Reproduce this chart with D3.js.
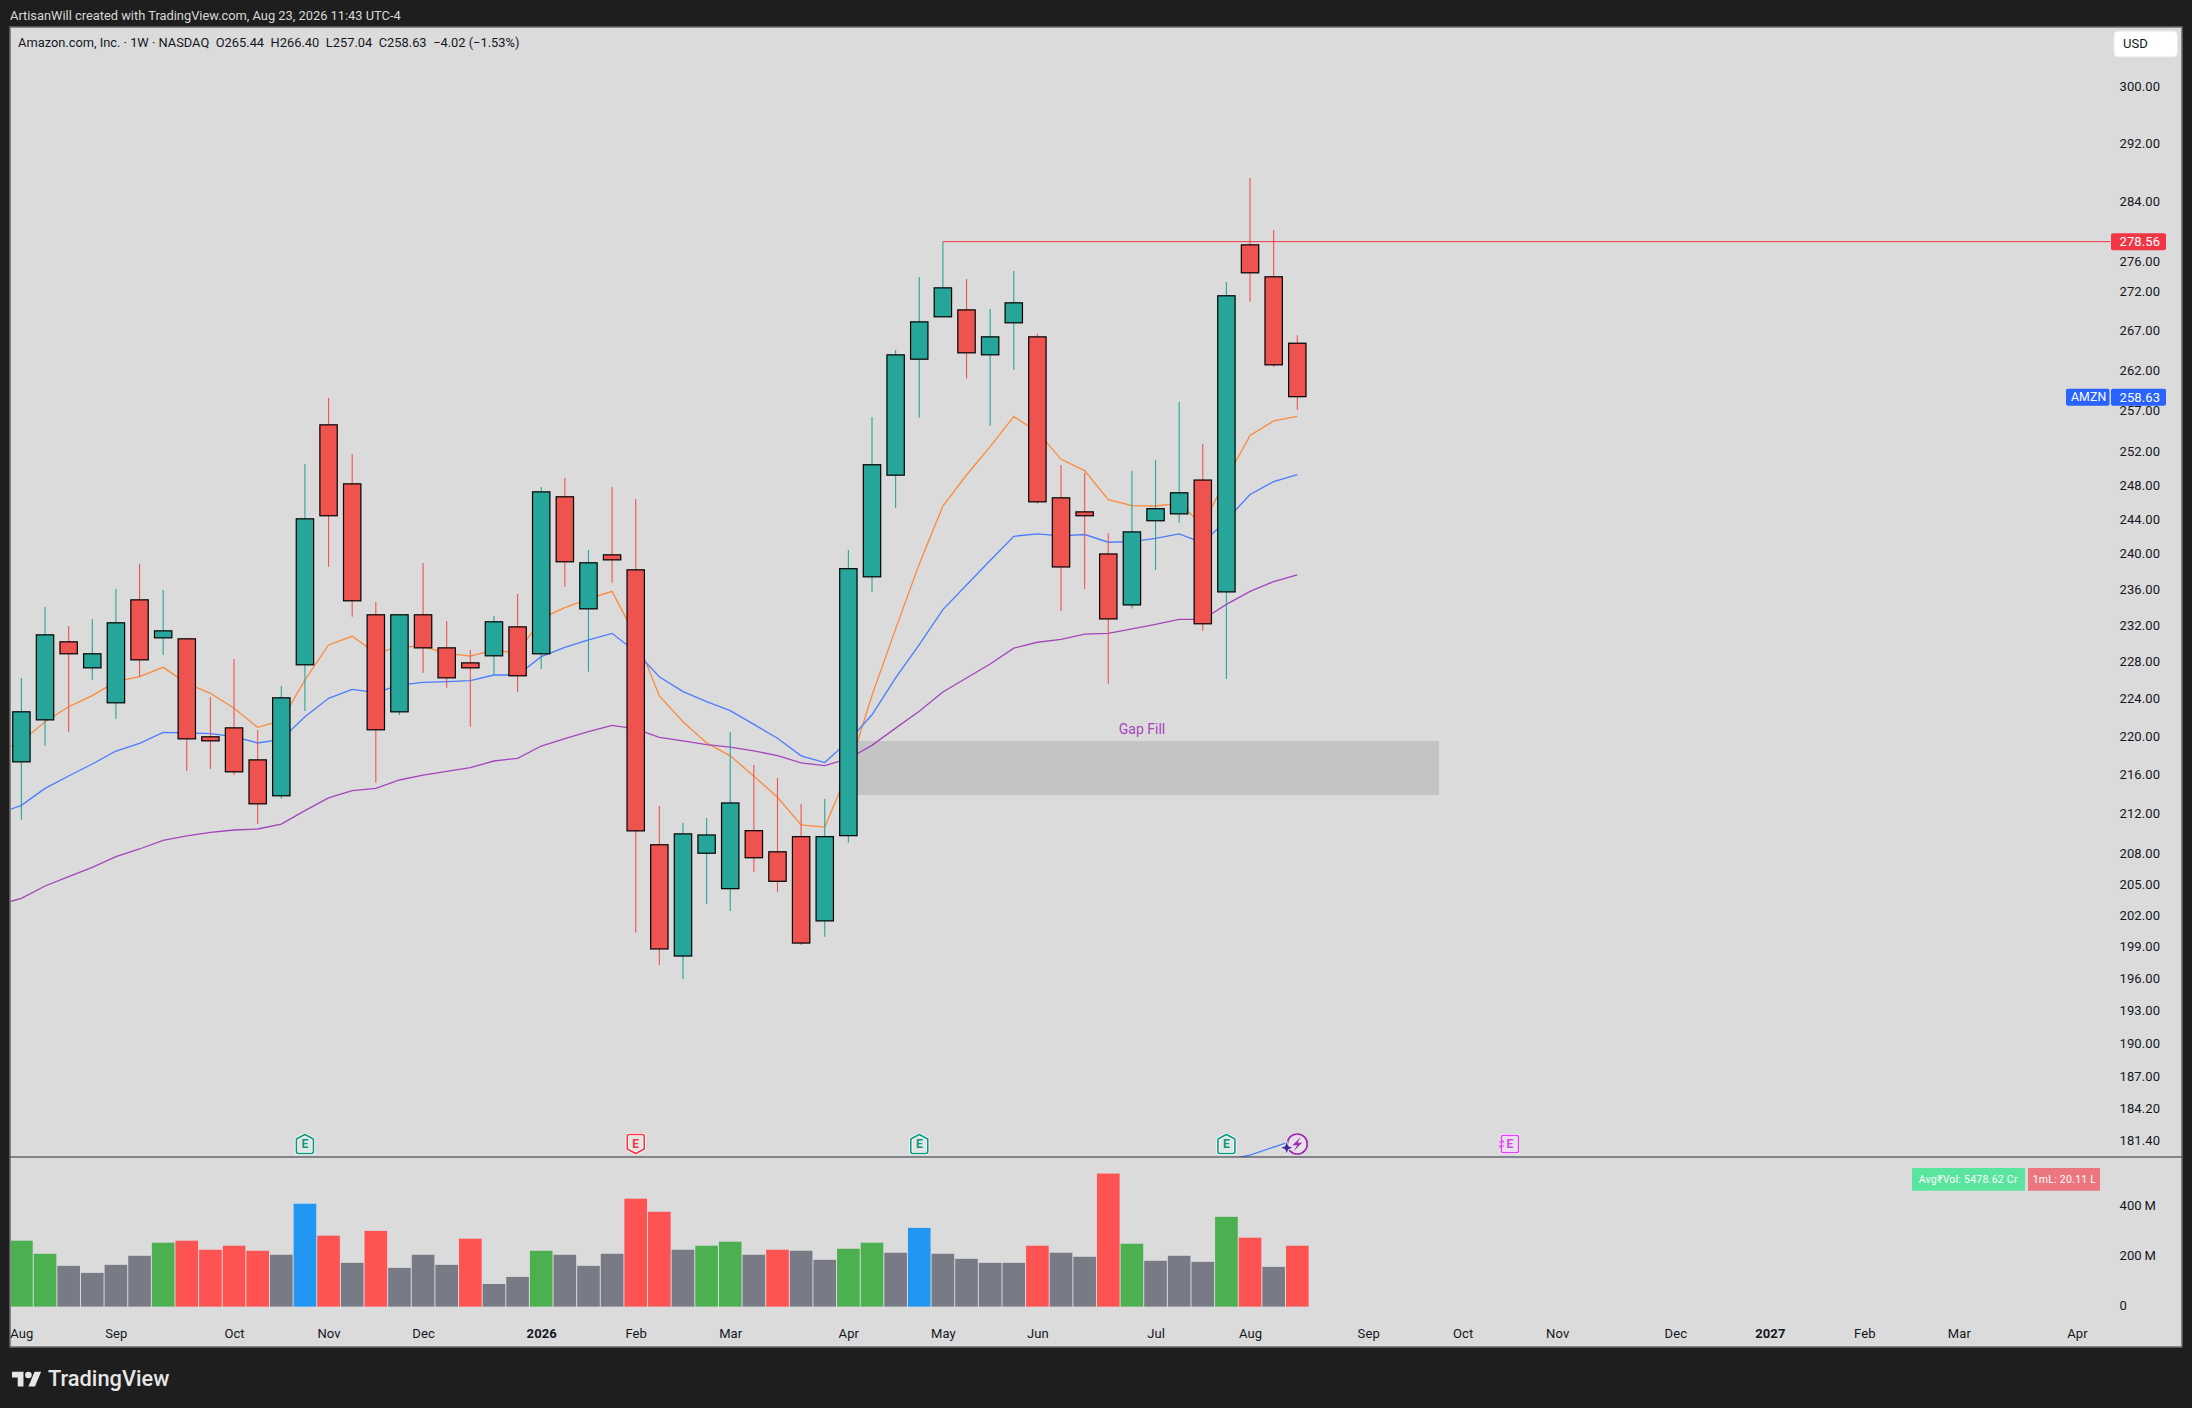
<!DOCTYPE html>
<html>
<head>
<meta charset="utf-8">
<title>AMZN weekly</title>
<script src="https://cdn.jsdelivr.net/npm/d3@7"></script>
<style>
  html, body { margin: 0; background: #1e1e1e; }
  svg { display: block; }
  text { font-family: Roboto, sans-serif; }
</style>
</head>
<body>
<svg id="chart" width="2192" height="1408"></svg>
<script>
// weekly bars, Monday of each week
var weeks = ["2025-08-04","2025-08-11","2025-08-18","2025-08-25","2025-09-01","2025-09-08","2025-09-15","2025-09-22","2025-09-29","2025-10-06","2025-10-13","2025-10-20","2025-10-27","2025-11-03","2025-11-10","2025-11-17","2025-11-24","2025-12-01","2025-12-08","2025-12-15","2025-12-22","2025-12-29","2026-01-05","2026-01-12","2026-01-19","2026-01-26","2026-02-02","2026-02-09","2026-02-16","2026-02-23","2026-03-02","2026-03-09","2026-03-16","2026-03-23","2026-03-30","2026-04-06","2026-04-13","2026-04-20","2026-04-27","2026-05-04","2026-05-11","2026-05-18","2026-05-25","2026-06-01","2026-06-08","2026-06-15","2026-06-22","2026-06-29","2026-07-06","2026-07-13","2026-07-20","2026-07-27","2026-08-03","2026-08-10","2026-08-17"];

var open = [217.26,221.66,230.18,227.23,223.47,234.84,230.51,230.51,219.98,220.92,217.57,213.77,227.56,255.30,248.21,233.17,222.51,233.17,229.52,227.88,228.54,231.83,228.76,246.68,233.72,239.94,238.23,208.93,198.03,207.99,204.50,210.34,208.23,209.74,201.38,209.74,237.32,249.12,263.30,268.68,269.70,263.85,267.91,266.25,246.56,244.91,240.04,234.16,243.76,244.56,248.66,235.62,278.20,273.99,265.44];
var high = [226.19,233.98,231.87,232.65,236.00,238.84,235.89,230.51,224.14,228.25,220.64,225.32,250.51,258.53,251.71,234.54,233.17,238.95,232.43,229.23,232.98,235.44,247.78,248.84,240.44,247.78,246.36,212.78,211.08,211.57,220.43,216.99,215.65,212.99,213.49,240.44,256.19,264.52,273.90,278.56,273.64,269.75,274.68,266.55,250.38,249.46,242.38,249.67,250.97,258.04,252.91,273.25,287.15,280.11,266.40];
var low = [211.40,219.00,220.47,225.97,221.80,226.26,228.68,216.37,216.57,215.99,210.96,213.53,222.65,238.53,232.91,215.16,222.23,226.73,225.15,220.99,226.62,224.72,227.16,236.27,226.87,236.72,200.30,197.24,195.92,203.07,202.39,206.19,204.23,199.13,199.90,209.11,235.66,245.31,256.11,268.68,260.93,255.14,262.05,245.81,233.54,236.01,225.58,233.81,238.16,243.59,231.32,226.08,270.69,262.42,257.04];
var close = [222.62,230.95,228.76,228.87,232.28,228.10,231.39,219.66,219.45,216.23,212.95,224.11,244.10,244.34,234.62,220.61,233.17,229.41,226.15,227.23,232.39,226.37,247.26,239.03,239.03,239.25,210.22,198.70,210.02,209.91,213.14,207.54,205.22,199.26,209.74,238.36,250.48,263.97,268.16,272.55,264.10,266.25,270.61,245.97,238.44,244.34,232.60,242.58,245.28,247.15,232.06,271.52,274.38,262.59,258.63];

// moving averages start one week before the first bar, the line runs off the left edge
var maWeeks = ["2025-07-28"].concat(weeks);
var maOrange = [218.37,219.42,221.52,223.11,224.29,225.79,226.33,227.34,225.61,224.54,222.94,220.92,221.63,225.97,229.78,230.73,228.87,229.60,229.60,228.87,228.57,229.23,228.87,232.72,233.91,234.88,235.74,230.69,224.25,221.52,219.29,217.94,215.83,213.67,210.87,210.65,216.37,224.30,231.55,238.84,245.53,249.20,252.59,256.24,254.41,251.07,249.72,246.28,245.58,245.54,245.85,243.32,248.80,253.96,255.71,256.28];
var maBlue = [211.97,212.85,214.58,215.85,217.09,218.44,219.24,220.40,220.33,220.26,219.94,219.28,219.66,222.05,224.00,224.97,224.61,225.43,225.72,225.79,225.90,226.51,226.51,228.50,229.52,230.33,231.06,229.05,226.33,224.72,223.66,222.69,221.24,219.77,217.94,217.24,219.47,222.25,226.19,229.81,233.69,236.45,239.24,242.02,242.30,242.06,242.22,241.33,241.41,241.77,242.30,241.25,243.89,246.89,248.42,249.25];
var maPurple = [202.96,203.61,204.81,205.72,206.64,207.70,208.46,209.32,209.76,210.12,210.36,210.46,210.96,212.31,213.60,214.34,214.58,215.44,215.95,216.33,216.71,217.40,217.68,218.96,219.73,220.47,221.13,220.75,219.87,219.49,219.11,218.85,218.45,217.97,217.21,216.92,217.64,219.03,220.84,222.62,224.68,226.19,227.71,229.43,230.08,230.39,230.97,231.05,231.55,232.06,232.60,232.60,234.28,235.74,236.84,237.60];

// the bit of blue line showing above the volume pane
var tailWeeks = ["2026-07-27","2026-08-03","2026-08-10","2026-08-17"];
var tailPrice = [179.70,180.13,180.82,181.51];

// volume in millions, kind: g up, r down, n normal, e earnings week
var volume = [262,210,162,134,166,202,254,262,226,242,222,206,409,282,174,301,154,206,166,270,90,118,222,206,162,210,429,377,226,242,258,206,226,222,186,230,254,214,313,210,190,174,174,242,214,198,529,250,182,202,178,357,274,158,242];
var volumeKind = "ggnnnngrrrrnernrnnnrnngnnnrrnggnrnnggnennnnrnnrgnnngrnr".split("");

var priceTicks = [300,292,284,276,272,267,262,257,252,248,244,240,236,232,228,224,220,216,212,208,205,202,199,196,193,190,187,184.2,181.4];
var volumeTicks = [0,200,400];
var timeTicks = ["2025-08-04","2025-09-01","2025-10-06","2025-11-03","2025-12-01","2026-01-05","2026-02-02","2026-03-02","2026-04-06","2026-05-04","2026-06-01","2026-07-06","2026-08-03","2026-09-07","2026-10-05","2026-11-02","2026-12-07","2027-01-04","2027-02-01","2027-03-01","2027-04-05"];
var timeLabels = ["Aug","Sep","Oct","Nov","Dec","2026","Feb","Mar","Apr","May","Jun","Jul","Aug","Sep","Oct","Nov","Dec","2027","Feb","Mar","Apr"];

var lastHigh = 278.56, lastClose = 258.63;
var rayStart = "2026-05-04";
var gapBox = {from: "2026-04-06", to: "2026-09-28", top: 219.49, bottom: 213.90};
var gapText = {at: "2026-07-02", price: 220.75};
var earnings = [
  {week: "2025-10-27", kind: "up"},
  {week: "2026-02-02", kind: "down"},
  {week: "2026-04-27", kind: "up"},
  {week: "2026-07-27", kind: "up"},
  {week: "2026-10-19", kind: "next"}
];
var dividendWeek = "2026-08-17";

var parse = d3.utcParse("%Y-%m-%d");
var svg = d3.select("#chart");

var left = 10, right = 2182, top_ = 27, bottom = 1347;
var plotRight = 2110, sepY = 1157;
var labelX = 2119.5;

var x = d3.scaleUtc().domain([parse(weeks[0]), parse(weeks[54])]).range([21.4, 1297.3]);
var y = d3.scaleLog().domain([300, 181.4]).range([86.3, 1140.3]);
var yVol = d3.scaleLinear().domain([0, 400]).range([1306.6, 1206]);

var step = x(parse(weeks[1])) - x(parse(weeks[0]));
var bodyW = step * 0.735;
var UP = "#26a69a", DOWN = "#ef5350";

svg.append("text").attr("x", 10).attr("y", 16).attr("dy", "0.35em")
  .attr("font-size", 12.85).attr("fill", "#d9d9d9")
  .text("ArtisanWill created with TradingView.com, Aug 23, 2026 11:43 UTC-4");

svg.append("rect").attr("x", left).attr("y", top_)
  .attr("width", right - left).attr("height", bottom - top_)
  .attr("fill", "#dbdbdb").attr("stroke", "#6b6b6b").attr("stroke-width", 1.5);

var defs = svg.append("defs");
defs.append("clipPath").attr("id", "price-clip").append("rect")
  .attr("x", left + 1).attr("y", top_ + 1).attr("width", plotRight - left - 1).attr("height", sepY - top_ - 1);
defs.append("clipPath").attr("id", "vol-clip").append("rect")
  .attr("x", left + 1).attr("y", sepY).attr("width", plotRight - left - 1).attr("height", bottom - sepY);

var pricePane = svg.append("g").attr("clip-path", "url(#price-clip)");

// gap box sits under everything
pricePane.append("rect")
  .attr("x", x(parse(gapBox.from)))
  .attr("width", x(parse(gapBox.to)) - x(parse(gapBox.from)))
  .attr("y", y(gapBox.top))
  .attr("height", y(gapBox.bottom) - y(gapBox.top))
  .attr("fill", "#c4c4c4");

var maLine = d3.line()
  .x(function(d, i) { return x(parse(maWeeks[i])); })
  .y(function(d) { return y(d); });

[[maOrange, "#fb8a3c"], [maBlue, "#4a7cff"], [maPurple, "#a545bd"]].forEach(function(s) {
  pricePane.append("path").datum(s[0])
    .attr("d", maLine)
    .attr("fill", "none")
    .attr("stroke", s[1])
    .attr("stroke-width", 1.3);
});

pricePane.append("path").datum(tailPrice)
  .attr("d", d3.line()
    .x(function(d, i) { return x(parse(tailWeeks[i])); })
    .y(function(d) { return y(d); }))
  .attr("fill", "none").attr("stroke", "#4a7cff").attr("stroke-width", 1.3);

var candles = pricePane.selectAll(".candle").data(weeks).enter().append("g").attr("class", "candle");
candles.append("line")
  .attr("x1", function(d) { return x(parse(d)); })
  .attr("x2", function(d) { return x(parse(d)); })
  .attr("y1", function(d, i) { return y(high[i]); })
  .attr("y2", function(d, i) { return y(low[i]); })
  .attr("stroke", function(d, i) { return close[i] >= open[i] ? UP : DOWN; })
  .attr("stroke-width", 1.1);
candles.append("rect")
  .attr("x", function(d) { return x(parse(d)) - bodyW / 2; })
  .attr("width", bodyW)
  .attr("y", function(d, i) { return y(Math.max(open[i], close[i])) + 0.5; })
  .attr("height", function(d, i) { return Math.abs(y(open[i]) - y(close[i])) - 1; })
  .attr("fill", function(d, i) { return close[i] >= open[i] ? UP : DOWN; })
  .attr("stroke", "#000")
  .attr("stroke-width", 1.2);

// horizontal ray from the May high
pricePane.append("line")
  .attr("x1", x(parse(rayStart))).attr("x2", plotRight)
  .attr("y1", y(lastHigh)).attr("y2", y(lastHigh))
  .attr("stroke", "#f23645").attr("stroke-width", 1);

pricePane.append("text")
  .attr("x", x(parse(gapText.at))).attr("y", y(gapText.price)).attr("dy", "0.35em")
  .attr("text-anchor", "middle")
  .attr("font-size", 14).attr("fill", "#a645bd")
  .text("Gap Fill");

// volume
var colors = {g: "#4caf50", r: "#ff5252", n: "#787b86", e: "#2196f3"};
svg.append("g").attr("clip-path", "url(#vol-clip)")
  .selectAll("rect").data(volume).enter().append("rect")
  .attr("x", function(d, i) { return x(parse(weeks[i])) - (step - 1) / 2; })
  .attr("width", step - 1)
  .attr("y", function(d) { return yVol(d); })
  .attr("height", function(d) { return yVol(0) - yVol(d); })
  .attr("fill", function(d, i) { return colors[volumeKind[i]]; });

// pane separator
svg.append("line").attr("x1", left).attr("x2", right).attr("y1", sepY).attr("y2", sepY)
  .attr("stroke", "#2a2e39").attr("stroke-width", 1.2);

// earnings tags
function tagPath(kind) {
  if (kind == "up") return "M-8.5,-5 L0,-9.5 L8.5,-5 L8.5,7.5 Q8.5,9.5 6.5,9.5 L-6.5,9.5 Q-8.5,9.5 -8.5,7.5 Z";
  if (kind == "down") return "M-8.5,-7.5 Q-8.5,-9.5 -6.5,-9.5 L6.5,-9.5 Q8.5,-9.5 8.5,-7.5 L8.5,5 L0,9.5 L-8.5,5 Z";
  return "M-7.5,-8.5 L7.5,-8.5 Q8.5,-8.5 8.5,-7.5 L8.5,7.5 Q8.5,8.5 7.5,8.5 L-7.5,8.5 Q-8.5,8.5 -8.5,7.5 L-8.5,-7.5 Q-8.5,-8.5 -7.5,-8.5 Z";
}
var tagColor = {up: "#089981", down: "#f23645", next: "#e040fb"};
var tags = svg.selectAll(".tag").data(earnings).enter().append("g").attr("class", "tag")
  .attr("transform", function(d) { return "translate(" + x(parse(d.week)) + ",1144)"; });
tags.append("path")
  .attr("d", function(d) { return tagPath(d.kind); })
  .attr("fill", "none").attr("stroke", "#fff").attr("stroke-width", 3.2);
tags.append("path")
  .attr("d", function(d) { return tagPath(d.kind); })
  .attr("fill", "#fff").attr("fill-opacity", 0.25).attr("stroke", function(d) { return tagColor[d.kind]; }).attr("stroke-width", 1.6);
tags.append("text")
  .attr("text-anchor", "middle").attr("dy", "0.37em")
  .attr("font-size", 12).attr("font-weight", 700)
  .attr("fill", function(d) { return tagColor[d.kind]; })
  .text("E");
tags.filter(function(d) { return d.kind == "next"; }).append("path")
  .attr("d", "M-11,-2 H-6 M-6,-2 L-8,-4 M-6,2 H-11 M-11,2 L-9,4")
  .attr("fill", "none").attr("stroke", "#e040fb").attr("stroke-width", 1);

// dividend bolt and the small star next to it
var div = svg.append("g").attr("transform", "translate(" + x(parse(dividendWeek)) + ",1144)");
div.append("circle").attr("r", 10).attr("fill", "#e6e0e8").attr("stroke", "#9c27b0").attr("stroke-width", 1.6);
div.append("path").attr("d", "M3.5,-7 L-5,1.5 L0,1 L-3.5,7 L5,-1.5 L0,-1 Z").attr("fill", "#9c27b0");
div.append("path").attr("transform", "translate(-10.6,3.7)")
  .attr("d", "M0,-7 L1.8,-1.8 L7,0 L1.8,1.8 L0,7 L-1.8,1.8 L-7,0 L-1.8,-1.8 Z")
  .attr("fill", "#3f2b96").attr("stroke", "#fff").attr("stroke-width", 0.8);

// axes
var priceAxis = d3.axisRight(y).tickValues(priceTicks).tickSize(0).tickPadding(0)
  .tickFormat(function(d) { return d3.format(".2f")(d); });
var pa = svg.append("g").attr("transform", "translate(" + labelX + ",0)").call(priceAxis);
pa.select(".domain").remove();

var volAxis = d3.axisRight(yVol).tickValues(volumeTicks).tickSize(0).tickPadding(0)
  .tickFormat(function(d) { return d == 0 ? "0" : d + "\u2009M"; });
var va = svg.append("g").attr("transform", "translate(" + labelX + ",-1)").call(volAxis);
va.select(".domain").remove();

var timeAxis = d3.axisBottom(x).tickValues(timeTicks.map(parse)).tickSize(0).tickPadding(0)
  .tickFormat(function(d, i) { return timeLabels[i]; });
var ta = svg.append("g").attr("transform", "translate(0,1329)").call(timeAxis);
ta.select(".domain").remove();
ta.selectAll("text").attr("font-weight", function(d, i) { return /^20/.test(timeLabels[i]) ? 700 : 400; });

svg.selectAll(".tick text")
  .style("font-family", "Roboto, sans-serif")
  .style("font-size", "13px")
  .style("letter-spacing", "0.1px")
  .attr("fill", "#131722");

// legend line
svg.append("text").attr("x", 18).attr("y", 42.7).attr("dy", "0.35em")
  .attr("font-size", 12.85).attr("fill", "#131722").attr("xml:space", "preserve")
  .text("Amazon.com, Inc. \u00b7 1W \u00b7 NASDAQ\u2002O265.44\u2002H266.40\u2002L257.04\u2002C258.63\u2002\u22124.02 (\u22121.53%)");

// USD box
svg.append("rect").attr("x", 2114).attr("y", 31).attr("width", 63.5).attr("height", 26).attr("rx", 4)
  .attr("fill", "#fff").attr("stroke", "#e8e8e8");
svg.append("text").attr("x", 2123).attr("y", 43.7).attr("dy", "0.35em")
  .attr("font-size", 13).attr("fill", "#131722").text("USD");

// price badges
function badge(bx, w, cy, color, label, textX, size) {
  svg.append("rect").attr("x", bx).attr("y", cy - 8.5).attr("width", w).attr("height", 17).attr("rx", 2).attr("fill", color);
  svg.append("text").attr("x", textX).attr("y", cy).attr("dy", "0.35em")
    .attr("font-size", size).attr("letter-spacing", 0.1).attr("fill", "#fff").text(label);
}
badge(2111, 55, y(lastHigh), "#f23645", d3.format(".2f")(lastHigh), labelX, 13);
badge(2066, 43.5, y(lastClose), "#2962ff", "AMZN", 2071, 12.3);
badge(2111, 55, y(lastClose), "#2962ff", d3.format(".2f")(lastClose), labelX, 13);

// volume stat boxes
svg.append("rect").attr("x", 1912).attr("y", 1168).attr("width", 113).attr("height", 22.7).attr("fill", "#59e59e");
svg.append("text").attr("x", 1918.7).attr("y", 1179.4).attr("dy", "0.35em")
  .attr("font-size", 10.5).attr("letter-spacing", 0.25).attr("fill", "#fff").text("Avg\u20b9Vol: 5478.62 Cr");
svg.append("rect").attr("x", 2028).attr("y", 1168).attr("width", 72).attr("height", 22.7).attr("fill", "#ec7680");
svg.append("text").attr("x", 2032.7).attr("y", 1179.4).attr("dy", "0.35em")
  .attr("font-size", 10.5).attr("letter-spacing", 0.25).attr("fill", "#fff").text("1mL: 20.11 L");

// footer logo
var logo = svg.append("g").attr("transform", "translate(12,1368.5) scale(0.82)").attr("fill", "#e6e6e6");
logo.append("path").attr("d", "M14 22H7V11H0V4h14v18zM28 22h-8l7.5-18h8L28 22z");
logo.append("circle").attr("cx", 20).attr("cy", 8).attr("r", 4);
svg.append("text").attr("x", 48).attr("y", 1378).attr("dy", "0.35em")
  .attr("font-size", 21.8).attr("font-weight", 500).attr("fill", "#e6e6e6")
  .text("TradingView");
</script>
</body>
</html>
